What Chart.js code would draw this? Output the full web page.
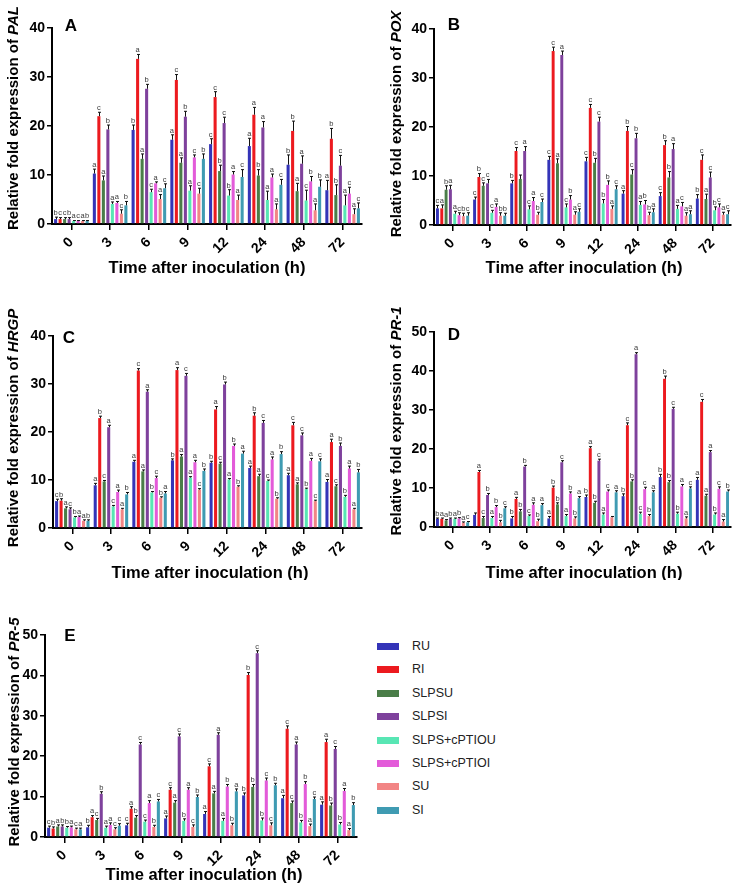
<!DOCTYPE html>
<html lang="en">
<head>
<meta charset="UTF-8">
<title>Relative fold expression</title>
<script src="https://cdn.jsdelivr.net/npm/chart.js"></script>
<style>
  body { margin: 0; background: #fff; font-family: "Liberation Sans", Arial, sans-serif; }
  #page { position: relative; width: 738px; height: 896px; overflow: hidden; }
  .panel { position: absolute; }
  .legend-item { position: absolute; left: 377px; height: 16px; font-size: 12.5px; color: #222; line-height: 16px; }
  .legend-item span { position: absolute; left: 0; top: 5px; width: 22px; height: 7px; }
  .legend-item b { position: absolute; left: 35px; top: 0; font-weight: normal; white-space: nowrap; }
</style>
</head>
<body>
<div id="page">
  <canvas id="chartA" class="panel" width="369" height="290" style="left:0;top:0"></canvas>
  <canvas id="chartB" class="panel" width="369" height="290" style="left:369px;top:0"></canvas>
  <canvas id="chartC" class="panel" width="369" height="290" style="left:0;top:290px"></canvas>
  <canvas id="chartD" class="panel" width="369" height="290" style="left:369px;top:290px"></canvas>
  <canvas id="chartE" class="panel" width="369" height="316" style="left:0;top:580px"></canvas>
  <div id="legend"></div>
</div>

<script>
// time points and treatments
const times = ['0', '3', '6', '9', '12', '24', '48', '72'];
const series = ['RU', 'RI', 'SLPSU', 'SLPSI', 'SLPS+cPTIOU', 'SLPS+cPTIOI', 'SU', 'SI'];
const colors = ['#3434b8', '#ec1a1f', '#4a7d48', '#7e419c', '#58e6b4', '#e35bd9', '#f28585', '#3f9bb2'];

// PAL (rows = series, columns = time points)
const palMeans = [
  [1.0, 10.3, 19.2, 17.2, 16.3, 15.9, 12.1, 6.9],
  [1.0, 22.0, 33.7, 29.4, 25.9, 22.3, 19.0, 17.4],
  [1.0, 8.9, 13.3, 12.5, 10.8, 9.9, 6.7, 5.9],
  [1.0, 19.3, 27.6, 21.9, 20.6, 19.7, 12.3, 11.9],
  [0.6, 4.1, 6.5, 6.8, 5.8, 4.9, 4.8, 3.8],
  [0.6, 4.3, 8.3, 13.6, 10.1, 9.5, 8.7, 6.2],
  [0.6, 2.1, 5.1, 6.2, 4.9, 3.0, 2.8, 2.0],
  [0.6, 3.8, 7.3, 13.3, 9.6, 8.0, 7.6, 3.2]
];
const palErrors = [
  [0.4, 0.9, 1.0, 1.0, 1.1, 1.6, 2.0, 2.0],
  [0.3, 0.8, 0.9, 1.1, 1.1, 1.5, 2.0, 2.1],
  [0.3, 0.9, 1.0, 1.0, 1.2, 1.2, 1.6, 2.1],
  [0.3, 0.9, 0.9, 1.1, 1.2, 1.2, 1.6, 2.1],
  [0.1, 0.4, 0.6, 1.0, 1.2, 1.8, 2.1, 2.1],
  [0.1, 0.3, 0.3, 0.5, 0.6, 0.7, 1.0, 1.3],
  [0.1, 0.8, 0.9, 1.1, 1.0, 1.1, 1.3, 1.1],
  [0.1, 0.8, 0.9, 1.0, 1.5, 1.1, 1.4, 1.1]
];
const palLetters = [
  ['b', 'a', 'b', 'a', 'c', 'a', 'b', 'a'],
  ['c', 'c', 'a', 'c', 'c', 'a', 'b', 'b'],
  ['c', 'a', 'a', 'a', 'b', 'b', 'a', 'b'],
  ['b', 'b', 'b', 'b', 'c', 'a', 'a', 'c'],
  ['a', 'a', 'c', 'a', 'b', 'a', 'c', 'a'],
  ['c', 'a', 'a', 'c', 'a', 'a', 'b', 'c'],
  ['a', 'c', 'a', 'c', 'a', 'a', 'a', 'a'],
  ['b', 'b', 'c', 'b', 'c', 'c', 'b', 'c']
];

// POX
const poxMeans = [
  [3.4, 5.2, 8.5, 13.3, 13.0, 6.4, 5.9, 5.4],
  [3.4, 9.8, 15.1, 35.5, 23.9, 19.2, 16.3, 13.3],
  [7.2, 8.0, 9.4, 12.6, 12.7, 10.3, 9.7, 5.3],
  [7.3, 8.5, 15.1, 34.7, 21.1, 17.7, 15.5, 9.7],
  [2.3, 2.5, 3.2, 3.6, 4.4, 4.1, 3.3, 3.0],
  [2.0, 3.7, 4.9, 5.2, 8.2, 4.2, 3.8, 3.6],
  [1.8, 1.9, 2.1, 2.1, 3.3, 2.0, 1.9, 2.1],
  [1.9, 1.9, 4.7, 2.7, 7.3, 2.6, 2.2, 2.2]
];
const poxErrors = [
  [0.6, 0.5, 0.6, 0.7, 0.8, 0.6, 0.7, 0.8],
  [0.7, 0.7, 0.7, 0.8, 0.7, 0.9, 0.9, 1.0],
  [0.8, 0.6, 0.8, 0.9, 0.9, 1.0, 1.2, 1.0],
  [0.8, 0.8, 0.9, 0.8, 0.9, 1.0, 1.1, 1.1],
  [0.5, 0.5, 0.7, 0.7, 0.8, 0.7, 0.7, 0.7],
  [0.5, 0.6, 0.7, 0.8, 0.8, 0.8, 0.8, 0.7],
  [0.6, 0.6, 0.5, 0.6, 0.6, 0.6, 0.6, 0.5],
  [0.6, 0.5, 0.6, 0.6, 0.7, 0.7, 0.7, 0.7]
];
const poxLetters = [
  ['c', 'c', 'b', 'c', 'c', 'a', 'c', 'b'],
  ['a', 'b', 'c', 'c', 'c', 'b', 'b', 'c'],
  ['b', 'c', '', 'a', 'b', 'c', 'b', 'a'],
  ['a', 'c', 'a', 'a', 'c', 'b', 'a', 'c'],
  ['a', 'c', 'c', 'c', 'b', 'a', 'a', 'b'],
  ['c', 'a', 'a', 'b', 'b', 'b', 'c', 'c'],
  ['b', 'b', 'b', 'a', 'a', 'b', 'a', 'a'],
  ['c', 'b', 'c', 'c', 'c', 'a', 'a', 'c']
];

// HRGP
const hrgpMeans = [
  [5.6, 8.9, 13.8, 14.1, 13.6, 12.5, 11.0, 9.6],
  [5.7, 22.9, 32.8, 32.9, 24.7, 23.4, 21.4, 17.9],
  [4.1, 9.7, 11.8, 14.9, 13.4, 10.8, 9.1, 8.7],
  [3.9, 21.0, 28.4, 31.7, 29.9, 21.9, 19.3, 17.1],
  [2.2, 4.5, 7.4, 10.5, 10.1, 9.8, 8.1, 6.5],
  [2.3, 7.5, 10.4, 13.7, 17.1, 14.3, 14.0, 12.4],
  [1.5, 3.9, 6.3, 8.0, 8.6, 6.1, 5.6, 3.9],
  [1.5, 7.0, 7.2, 11.9, 15.5, 15.4, 13.9, 11.6]
];
const hrgpErrors = [
  [0.4, 0.4, 0.3, 0.3, 0.3, 0.4, 0.4, 0.5],
  [0.4, 0.4, 0.4, 0.5, 0.6, 0.6, 0.6, 0.6],
  [0.3, 0.2, 0.3, 0.4, 0.3, 0.4, 0.3, 0.3],
  [0.3, 0.4, 0.4, 0.5, 0.5, 0.5, 0.5, 0.6],
  [0.2, 0.2, 0.2, 0.2, 0.2, 0.2, 0.2, 0.3],
  [0.2, 0.4, 0.4, 0.4, 0.4, 0.5, 0.5, 0.5],
  [0.2, 0.2, 0.2, 0.2, 0.2, 0.2, 0.2, 0.2],
  [0.2, 0.4, 0.4, 0.4, 0.5, 0.5, 0.5, 0.6]
];
const hrgpLetters = [
  ['c', 'a', 'a', 'b', 'b', 'a', 'a', 'a'],
  ['b', 'b', 'c', 'a', 'a', 'b', 'c', 'a'],
  ['a', 'c', 'a', 'a', 'c', 'a', 'a', 'c'],
  ['c', 'a', 'a', 'c', 'b', 'c', 'c', 'b'],
  ['b', 'c', 'b', 'a', 'a', 'c', 'b', 'b'],
  ['a', 'a', 'c', 'a', 'b', 'a', 'a', 'a'],
  ['a', 'a', 'b', 'c', 'b', 'b', 'c', 'a'],
  ['b', 'b', 'a', 'b', 'a', 'b', 'c', 'b']
];

// PR-1
const pr1Means = [
  [2.1, 3.1, 2.2, 2.2, 7.7, 7.9, 12.8, 12.1],
  [2.1, 14.1, 7.2, 10.1, 20.2, 26.1, 38.0, 32.1],
  [1.7, 2.3, 4.0, 5.8, 6.2, 11.7, 11.5, 8.0],
  [2.1, 8.2, 15.5, 16.6, 17.0, 44.3, 30.3, 19.2],
  [2.1, 2.3, 2.8, 2.8, 3.2, 3.4, 3.4, 3.2],
  [2.2, 5.1, 5.7, 8.6, 9.1, 9.7, 10.4, 9.8],
  [1.1, 1.2, 1.5, 2.2, 2.5, 2.8, 2.2, 1.4],
  [1.2, 4.8, 5.6, 7.4, 8.9, 8.9, 9.9, 9.1]
];
const pr1Errors = [
  [0.2, 0.5, 0.5, 0.5, 0.5, 0.6, 0.7, 0.6],
  [0.2, 0.4, 0.4, 0.4, 0.4, 0.6, 0.7, 0.6],
  [0.2, 0.4, 0.5, 0.4, 0.4, 0.4, 0.4, 0.4],
  [0.2, 0.4, 0.3, 0.4, 0.4, 0.4, 0.4, 0.4],
  [0.2, 0.4, 0.3, 0.4, 0.4, 0.4, 0.4, 0.4],
  [0.2, 0.4, 0.5, 0.4, 0.4, 0.5, 0.5, 0.5],
  [0.2, 0.5, 0.5, 0.4, 0.2, 0.4, 0.4, 0.5],
  [0.2, 0.4, 0.4, 0.4, 0.4, 0.4, 0.4, 0.4]
];
const pr1Letters = [
  ['b', '', 'b', 'a', 'b', 'b', 'b', 'a'],
  ['a', 'a', 'a', 'b', 'a', 'c', 'b', 'c'],
  ['a', 'c', 'b', 'b', 'b', 'b', 'b', 'a'],
  ['b', 'b', 'b', 'c', 'c', 'a', 'c', 'a'],
  ['a', 'a', 'c', 'a', 'a', 'c', 'b', 'b'],
  ['b', 'b', 'a', 'b', 'c', 'c', 'a', 'c'],
  ['a', 'b', 'b', 'b', '', 'b', 'a', 'a'],
  ['c', 'c', 'a', 'a', 'a', 'a', 'c', 'b']
];

// PR-5
const pr5Means = [
  [2.3, 2.4, 2.9, 4.6, 5.7, 10.3, 9.6, 8.0],
  [2.1, 4.9, 7.0, 11.7, 17.5, 40.1, 26.8, 23.5],
  [2.6, 4.2, 4.8, 8.5, 10.8, 12.4, 8.4, 7.8],
  [2.6, 10.7, 22.9, 24.9, 25.3, 45.5, 22.9, 21.8],
  [2.3, 2.3, 3.8, 4.0, 4.0, 4.1, 3.6, 3.1],
  [2.4, 3.0, 8.4, 11.7, 12.5, 14.0, 13.1, 11.4],
  [1.9, 1.9, 2.5, 2.5, 2.9, 2.9, 2.7, 1.7],
  [1.9, 2.8, 8.8, 9.9, 11.3, 12.8, 9.4, 7.9]
];
const pr5Errors = [
  [0.4, 0.5, 0.5, 0.6, 0.6, 0.6, 0.7, 0.7],
  [0.4, 0.4, 0.5, 0.5, 0.6, 0.6, 0.7, 0.7],
  [0.4, 0.4, 0.5, 0.5, 0.5, 0.6, 0.5, 0.6],
  [0.4, 0.5, 0.5, 0.6, 0.5, 0.6, 0.6, 0.6],
  [0.3, 0.4, 0.4, 0.5, 0.6, 0.6, 0.5, 0.5],
  [0.3, 0.5, 0.6, 0.5, 0.5, 0.6, 0.6, 0.6],
  [0.3, 0.4, 0.4, 0.5, 0.5, 0.6, 0.5, 0.4],
  [0.3, 0.5, 0.5, 0.5, 0.6, 0.5, 0.5, 0.6]
];
const pr5Letters = [
  ['c', 'b', 'c', 'a', 'a', 'b', 'a', 'a'],
  ['b', 'a', 'a', 'c', 'c', 'b', 'c', 'a'],
  ['a', 'c', 'b', 'a', 'a', 'b', 'c', 'b'],
  ['b', 'b', 'c', 'c', 'a', 'c', 'a', 'c'],
  ['b', 'a', 'c', 'b', 'a', 'b', 'b', 'b'],
  ['a', 'a', 'a', 'a', 'b', 'c', 'b', 'a'],
  ['c', 'c', 'b', 'c', 'b', 'c', 'a', 'a'],
  ['a', 'c', 'c', 'b', 'a', 'b', 'c', 'b']
];

const FAMILY = '"Liberation Sans", Arial, sans-serif';

// error bars, letters, titles drawn on top of the bars
function annotations(means, errors, letters, gene, tag, g) {
  return {
    id: 'annotations',
    afterDatasetsDraw(chart) {
      const ctx = chart.ctx;
      const y = chart.scales.y;
      ctx.save();
      ctx.strokeStyle = '#111';
      ctx.lineWidth = 1;
      ctx.fillStyle = '#3a3a3a';
      ctx.font = '7.5px ' + FAMILY;
      ctx.textAlign = 'center';
      ctx.textBaseline = 'bottom';
      means.forEach((row, i) => {
        chart.getDatasetMeta(i).data.forEach((bar, j) => {
          const top = y.getPixelForValue(row[j] + errors[i][j]);
          const x = Math.round(bar.x) + 0.5;
          ctx.beginPath();
          ctx.moveTo(x, bar.y);
          ctx.lineTo(x, top);
          ctx.moveTo(x - 1.5, top);
          ctx.lineTo(x + 1.5, top);
          ctx.stroke();
          if (letters[i][j]) ctx.fillText(letters[i][j], bar.x, top - 0.5);
        });
      });
      ctx.restore();
    },
    afterDraw(chart) {
      const ctx = chart.ctx;
      ctx.save();
      ctx.fillStyle = '#000';
      ctx.textBaseline = 'middle';
      // panel letter
      ctx.textAlign = 'center';
      ctx.font = 'bold 17px ' + FAMILY;
      ctx.fillText(tag, g.tagX, g.tagY);
      // x title
      ctx.font = 'bold 16.5px ' + FAMILY;
      ctx.fillText('Time after inoculation (h)', g.xtX, g.xtY);
      // y title with italic gene name
      const plain = 'Relative fold expression of ';
      ctx.translate(g.ytX, g.ytY);
      ctx.rotate(-Math.PI / 2);
      ctx.textAlign = 'left';
      ctx.font = 'bold 15px ' + FAMILY;
      const w1 = ctx.measureText(plain).width;
      ctx.font = 'italic bold 15px ' + FAMILY;
      const w2 = ctx.measureText(gene).width;
      const start = -(w1 + w2) / 2;
      ctx.font = 'bold 15px ' + FAMILY;
      ctx.fillText(plain, start, 0);
      ctx.font = 'italic bold 15px ' + FAMILY;
      ctx.fillText(gene, start + w1, 0);
      ctx.restore();
    }
  };
}

function makePanel(id, means, errors, letters, gene, tag, ymax, g) {
  const canvas = document.getElementById(id);
  const tickFont = { family: FAMILY, size: 14, weight: 'bold' };
  new Chart(canvas, {
    type: 'bar',
    data: {
      labels: times,
      datasets: series.map((name, i) => ({
        label: name,
        data: means[i],
        backgroundColor: colors[i],
        borderWidth: 0,
        categoryPercentage: 0.93,
        barPercentage: 0.68
      }))
    },
    options: {
      responsive: false,
      animation: false,
      layout: { padding: { top: g.top, right: canvas.width - g.right, left: 0, bottom: 0 } },
      plugins: { legend: { display: false }, tooltip: { enabled: false } },
      scales: {
        x: {
          grid: { offset: false, drawOnChartArea: false, tickLength: 6, color: '#000', lineWidth: 1.5 },
          border: { color: '#000', width: 2 },
          ticks: { color: '#000', font: tickFont, maxRotation: 45, minRotation: 45, autoSkip: false, padding: 4 },
          afterFit: s => { s.height = canvas.height - g.bottom; }
        },
        y: {
          min: 0,
          max: ymax,
          grid: { drawOnChartArea: false, tickLength: 5, color: '#000', lineWidth: 1.5 },
          border: { color: '#000', width: 2 },
          ticks: { stepSize: 10, color: '#000', font: tickFont, padding: 2 },
          afterFit: s => { s.width = g.left; }
        }
      }
    },
    plugins: [annotations(means, errors, letters, gene, tag, g)]
  });
}

makePanel('chartA', palMeans, palErrors, palLetters, 'PAL', 'A', 40,
  { left: 52, top: 28, right: 362, bottom: 224, tagX: 71, tagY: 26, xtX: 207, xtY: 268, ytX: 14, ytY: 118 });
makePanel('chartB', poxMeans, poxErrors, poxLetters, 'POX', 'B', 40,
  { left: 65, top: 29, right: 362, bottom: 225, tagX: 85, tagY: 25, xtX: 215, xtY: 268, ytX: 28, ytY: 124 });
makePanel('chartC', hrgpMeans, hrgpErrors, hrgpLetters, 'HRGP', 'C', 40,
  { left: 53, top: 46, right: 362, bottom: 238, tagX: 69, tagY: 48, xtX: 210, xtY: 283, ytX: 14, ytY: 138 });
makePanel('chartD', pr1Means, pr1Errors, pr1Letters, 'PR-1', 'D', 50,
  { left: 65, top: 42, right: 362, bottom: 237, tagX: 85, tagY: 45, xtX: 215, xtY: 283, ytX: 28, ytY: 131 });
makePanel('chartE', pr5Means, pr5Errors, pr5Letters, 'PR-5', 'E', 50,
  { left: 45, top: 55, right: 357, bottom: 257, tagX: 70, tagY: 56, xtX: 204, xtY: 295, ytX: 15, ytY: 152 });

// legend
const legend = document.getElementById('legend');
series.forEach((name, i) => {
  const item = document.createElement('div');
  item.className = 'legend-item';
  item.style.top = (646 + i * 23.4 - 8) + 'px';
  item.innerHTML = '<span style="background:' + colors[i] + '"></span><b></b>';
  item.querySelector('b').textContent = name;
  legend.appendChild(item);
});
</script>
</body>
</html>
